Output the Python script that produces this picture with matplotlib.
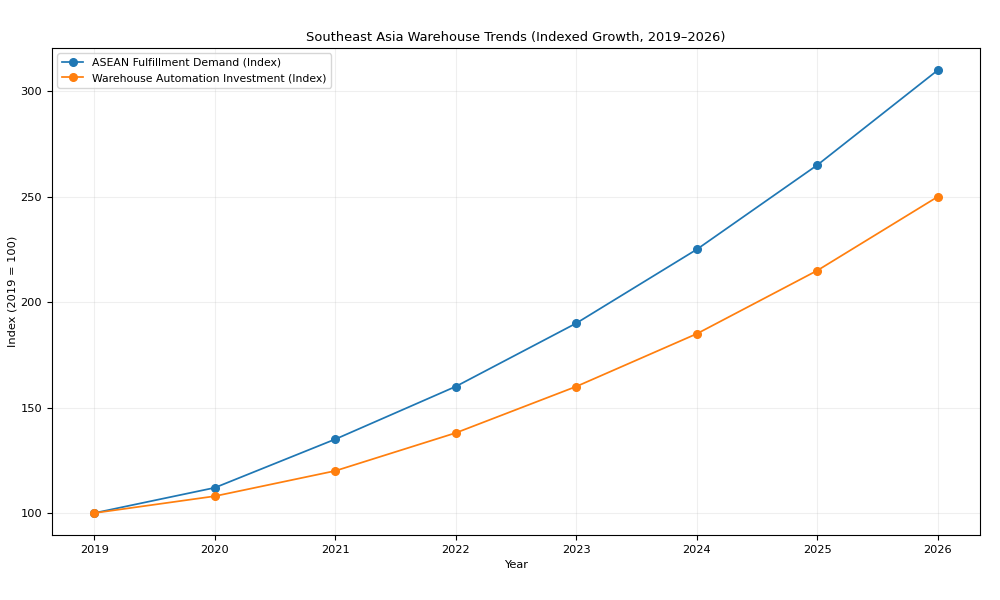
import matplotlib
matplotlib.use("Agg")
import matplotlib.pyplot as plt

years = [2019, 2020, 2021, 2022, 2023, 2024, 2025, 2026]
demand = [100, 112, 135, 160, 190, 225, 265, 310]
automation = [100, 108, 120, 138, 160, 185, 215, 250]

plt.rcParams['font.size'] = 8.2

fig = plt.figure(figsize=(10, 6), dpi=100)
ax = fig.add_axes([0.052, 0.108, 0.928, 0.812])
ax.plot(years, demand, marker='o', markersize=5.5, linewidth=1.25,
        label='ASEAN Fulfillment Demand (Index)')
ax.plot(years, automation, marker='o', markersize=5.5, linewidth=1.25,
        label='Warehouse Automation Investment (Index)')
ax.set_title('Southeast Asia Warehouse Trends (Indexed Growth, 2019–2026)', fontsize=9.4, pad=5)
ax.set_xlabel('Year')
ax.set_ylabel('Index (2019 = 100)', labelpad=2)
ax.set_xticks(years)
ax.grid(True, alpha=0.2)
ax.legend(loc='upper left', fontsize=7.8)
fig.savefig('out.png')
